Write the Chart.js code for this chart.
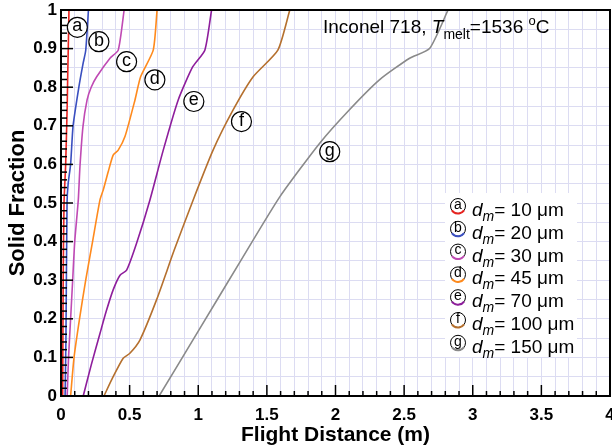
<!DOCTYPE html>
<html><head><meta charset="utf-8">
<script src="https://cdn.jsdelivr.net/npm/chart.js@4.4.1/dist/chart.umd.min.js"></script>
<style>html,body{margin:0;padding:0;background:#fff}#wrap{width:612px;height:448px;position:relative}</style>
</head><body><div id="wrap"><canvas id="c" width="612" height="448"></canvas></div>
<script>
// ---- data ----
const curveLetters = ['a','b','c','d','e','f','g'];
const dropletSizes = [10, 20, 30, 45, 70, 100, 150];
const curveColors = ['#e8231f','#3a4fc0','#c04ab4','#ff8a1c','#8e1e9c','#b5702e','#8a8a8a'];

const xA = [0.012,0.016,0.022,0.034,0.045,0.050,0.053,0.058];
const yA = [0,0.3,0.5,0.6,0.75,0.85,0.9,1.0];
const xB = [0.030,0.036,0.044,0.052,0.070,0.088,0.130,0.160,0.180,0.200];
const yB = [0,0.15,0.5,0.55,0.6,0.7,0.8,0.86,0.895,1.0];
const xC = [0.045,0.055,0.070,0.085,0.100,0.126,0.138,0.160,0.190,0.220,0.260,0.357,0.417,0.460];
const yC = [0,0.1,0.2,0.3,0.4,0.508,0.594,0.698,0.767,0.8,0.827,0.875,0.896,1.0];
const xD = [0.070,0.095,0.135,0.180,0.230,0.284,0.308,0.344,0.380,0.417,0.466,0.539,0.580,0.672,0.700];
const yD = [0,0.1,0.2,0.3,0.4,0.508,0.534,0.581,0.624,0.637,0.672,0.767,0.827,0.896,1.0];
const xE = [0.162,0.220,0.284,0.330,0.380,0.430,0.478,0.550,0.648,0.745,0.854,0.960,1.048,1.097];
const yE = [0,0.08,0.162,0.22,0.275,0.313,0.326,0.395,0.508,0.637,0.767,0.853,0.896,1.0];
const xF = [0.313,0.380,0.453,0.500,0.575,0.696,0.825,0.963,1.108,1.254,1.400,1.580,1.667];
const yF = [0,0.05,0.098,0.11,0.145,0.249,0.378,0.508,0.637,0.741,0.827,0.896,1.0];
const xG = [0.715,1.000,1.300,1.594,1.885,2.100,2.320,2.540,2.685,2.820];
const yG = [0,0.168,0.345,0.516,0.655,0.741,0.819,0.875,0.900,1.0];

const curveX = [xA,xB,xC,xD,xE,xF,xG];
const curveY = [yA,yB,yC,yD,yE,yF,yG];

// circled-letter annotation anchors (data units)
const labelX = [0.119,0.276,0.478,0.684,0.968,1.315,1.958];
const labelY = [0.955,0.918,0.866,0.819,0.763,0.711,0.633];

const xTickLabels = ['0','0.5','1','1.5','2','2.5','3','3.5','4'];
const yTickLabels = ['0','0.1','0.2','0.3','0.4','0.5','0.6','0.7','0.8','0.9','1'];
const xMinorStep = 0.1, xMajorEvery = 5;
const yMinorStep = 0.02, yMajorEvery = 5;

// ---- chart ----
const FONT = 'Arial, "Liberation Sans", sans-serif';
Chart.defaults.font.family = FONT;
Chart.defaults.color = '#000';

const datasets = curveLetters.map((l, i) => ({
  label: l,
  data: curveX[i].map((x, k) => ({x, y: curveY[i][k]})),
  borderColor: curveColors[i],
  backgroundColor: curveColors[i],
  borderWidth: 1.6,
  pointRadius: 0,
  showLine: true,
  tension: 0.2,
  fill: false
}));

const frameAndTicks = {
  id: 'frameAndTicks',
  afterDatasetsDraw(chart) {
    const {ctx, chartArea: a, scales: {x, y}} = chart;
    ctx.save();
    ctx.strokeStyle = '#000';
    ctx.lineWidth = 1.5;
    const nx = Math.round((x.max - x.min) / xMinorStep);
    for (let i = 0; i <= nx; i++) {
      const px = x.getPixelForValue(x.min + i * xMinorStep);
      const len = i % xMajorEvery === 0 ? 11 : 5;
      ctx.beginPath(); ctx.moveTo(px, a.bottom); ctx.lineTo(px, a.bottom - len); ctx.stroke();
    }
    const ny = Math.round((y.max - y.min) / yMinorStep);
    for (let i = 0; i <= ny; i++) {
      const py = y.getPixelForValue(y.min + i * yMinorStep);
      const len = i % yMajorEvery === 0 ? 12 : 6;
      ctx.beginPath(); ctx.moveTo(a.left, py); ctx.lineTo(a.left + len, py); ctx.stroke();
    }
    ctx.lineWidth = 2;
    ctx.strokeRect(a.left, a.top, a.right - a.left, a.bottom - a.top);

    // circled letters on curves
    ctx.font = '18px ' + FONT;
    ctx.textAlign = 'center';
    ctx.textBaseline = 'middle';
    curveLetters.forEach((l, i) => {
      const cx = x.getPixelForValue(labelX[i]), cy = y.getPixelForValue(labelY[i]);
      ctx.beginPath(); ctx.arc(cx, cy, 10, 0, Math.PI * 2);
      ctx.fillStyle = '#fff'; ctx.fill();
      ctx.lineWidth = 1.2; ctx.strokeStyle = '#000'; ctx.stroke();
      ctx.fillStyle = '#000';
      ctx.fillText(l, cx, cy - 1);
    });

    // title text
    let tx = a.left + 262, ty = a.top + 23;
    ctx.textAlign = 'left'; ctx.textBaseline = 'alphabetic';
    const put = (s, f, dy) => { ctx.font = f; ctx.fillText(s, tx, ty + dy); tx += ctx.measureText(s).width; };
    put('Inconel 718, ', '19px ' + FONT, 0);
    put('T', 'italic 19px ' + FONT, 0);
    put('melt', '14px ' + FONT, 6);
    put('=1536 ', '19px ' + FONT, 0);
    put('o', '13px ' + FONT, -8);
    put('C', '19px ' + FONT, 0);

    // legend box
    const bx = a.left + 384, by = a.top + 183;
    ctx.fillStyle = '#fff';
    ctx.fillRect(bx, by, 132, 164);
    curveLetters.forEach((l, i) => {
      const base = by + 23 + i * 22.8;
      const cx = bx + 13, cy = base - 10;
      ctx.beginPath(); ctx.arc(cx, cy, 7.5, 0, Math.PI * 2);
      ctx.lineWidth = 1; ctx.strokeStyle = '#000'; ctx.stroke();
      ctx.beginPath(); ctx.arc(cx, cy, 7.5, Math.PI * 0.2, Math.PI * 0.8);
      ctx.lineWidth = 2; ctx.strokeStyle = curveColors[i]; ctx.stroke();
      ctx.fillStyle = '#000';
      ctx.font = '14px ' + FONT; ctx.textAlign = 'center'; ctx.textBaseline = 'middle';
      ctx.fillText(l, cx, cy - 1);
      ctx.textAlign = 'left'; ctx.textBaseline = 'alphabetic';
      tx = bx + 27; ty = base;
      put('d', 'italic 19px ' + FONT, 0);
      put('m', 'italic 14px ' + FONT, 5);
      put('= ' + dropletSizes[i] + ' \u03bcm', '19px ' + FONT, 0);
    });
    ctx.restore();
  }
};

new Chart(document.getElementById('c'), {
  type: 'scatter',
  data: {datasets},
  options: {
    responsive: false,
    animation: false,
    devicePixelRatio: 1,
    layout: {padding: {top: 10, right: 2, left: 0, bottom: 0}},
    plugins: {legend: {display: false}, tooltip: {enabled: false}},
    scales: {
      x: {
        type: 'linear', min: 0, max: 4, position: 'bottom',
        ticks: {stepSize: xMinorStep, autoSkip: false, maxRotation: 0, padding: 9, color: '#000',
          font: {size: 17, weight: 'bold'},
          callback: (v, i) => (i % xMajorEvery === 0 ? xTickLabels[i / xMajorEvery] : '')},
        grid: {color: '#dcdcf2', drawTicks: false, lineWidth: 1},
        border: {display: true, color: '#000', width: 2},
        title: {display: true, text: 'Flight Distance (m)', color: '#000',
          font: {size: 21, weight: 'bold', lineHeight: 1.2}, padding: 0},
        afterFit(s) { s.height = 52; s.paddingLeft = 0; s.paddingRight = 0; }
      },
      y: {
        type: 'linear', min: 0, max: 1,
        ticks: {stepSize: 0.05, autoSkip: false, padding: 4, color: '#000',
          font: {size: 17, weight: 'bold'},
          callback: (v, i) => (i % 2 === 0 ? yTickLabels[i / 2] : '')},
        grid: {color: '#dcdcf2', drawTicks: false, lineWidth: 1},
        border: {display: true, color: '#000', width: 2},
        title: {display: true, text: 'Solid Fraction', color: '#000',
          font: {size: 22, weight: 'bold', lineHeight: 1.2}, padding: {top: 5, bottom: 0}},
        afterFit(s) { s.width = 61; s.paddingTop = 0; s.paddingBottom = 0; }
      }
    }
  },
  plugins: [frameAndTicks]
});
</script></body></html>
